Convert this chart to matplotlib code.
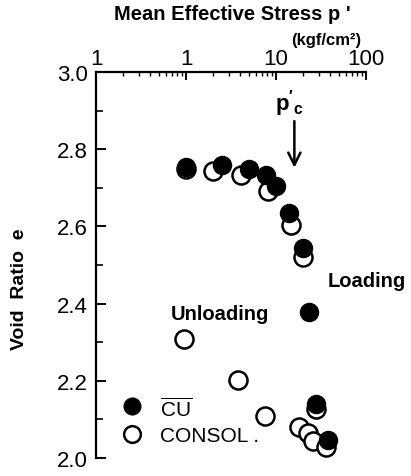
import numpy as np
import matplotlib
matplotlib.use("Agg")
import matplotlib.pyplot as plt
from matplotlib.ticker import FixedLocator, FixedFormatter, LogLocator, NullFormatter, MultipleLocator

plt.rcParams['font.family'] = ['Liberation Sans', 'DejaVu Sans']
plt.rcParams['mathtext.fontset'] = 'custom'
plt.rcParams['mathtext.rm'] = 'Liberation Sans'
plt.rcParams['mathtext.bf'] = 'Liberation Sans:bold'

# --- datos ---
# CU (circulos llenos)
cu_p = [1.0, 2.5, 5.0, 7.7, 10.0, 13.9, 19.8, 23.5, 27.8, 38.0]
cu_e = [2.753, 2.760, 2.749, 2.734, 2.705, 2.635, 2.543, 2.377, 2.140, 2.047]

# CONSOL (circulos vacios) - carga
cons_load_p = [1.0, 2.0, 4.1, 8.2, 14.6, 19.8]
cons_load_e = [2.748, 2.743, 2.734, 2.693, 2.604, 2.522]
# CONSOL - descarga / recarga
cons_unl_p = [0.95, 3.8, 7.55, 18.2, 22.9, 25.9, 27.8, 36.3]
cons_unl_e = [2.308, 2.202, 2.110, 2.080, 2.066, 2.045, 2.127, 2.028]

x_ticks = [0.1, 1, 10, 100]
x_labels = ['1', '1', '10', '100']
y_ticks = [2.0, 2.2, 2.4, 2.6, 2.8, 3.0]

fig = plt.figure(figsize=(4.11, 4.77), dpi=100)
ax = fig.add_axes([96/411, 1 - 459/477, 270/411, 386/477])

ms = 13
ax.plot(cons_load_p, cons_load_e, 'o', mfc='white', mec='black', mew=1.8, ms=ms, ls='none', zorder=2)
ax.plot(cons_unl_p, cons_unl_e, 'o', mfc='white', mec='black', mew=1.8, ms=ms, ls='none', zorder=2)
ax.plot(cu_p, cu_e, 'o', mfc='black', mec='black', ms=ms, ls='none', zorder=3)

ax.set_xscale('log')
ax.set_xlim(0.1, 100)
ax.set_ylim(2.0, 3.0)

ax.spines['right'].set_visible(False)
ax.spines['bottom'].set_visible(False)
ax.spines['left'].set_linewidth(1.6)
ax.spines['top'].set_linewidth(1.6)

ax.xaxis.tick_top()
ax.xaxis.set_major_locator(FixedLocator(x_ticks))
ax.xaxis.set_major_formatter(FixedFormatter(x_labels))
ax.xaxis.set_minor_locator(LogLocator(base=10, subs=np.arange(2, 10)))
ax.xaxis.set_minor_formatter(NullFormatter())
ax.tick_params(axis='x', which='major', direction='in', length=6, width=1.4, pad=2, labelsize=16)
ax.tick_params(axis='x', which='minor', direction='in', length=3, width=1.0)

ax.yaxis.set_major_locator(FixedLocator(y_ticks))
ax.yaxis.set_minor_locator(MultipleLocator(0.1))
ax.set_yticklabels(['%.1f' % v for v in y_ticks])
ax.tick_params(axis='y', which='major', direction='in', length=7, width=1.4, pad=6, labelsize=16)
ax.tick_params(axis='y', which='minor', direction='in', length=5, width=1.2)

ax.set_ylabel('Void  Ratio  e', fontsize=14, fontweight='bold')
ax.yaxis.set_label_coords(-0.25, 0.44)

# titulos
fig.text(232/411, 1 - 15/477, "Mean Effective Stress p '", ha='center', va='center',
         fontsize=14.5, fontweight='bold')
fig.text(326/411, 1 - 40/477, '(kgf/cm²)', ha='center', va='center',
         fontsize=12, fontweight='bold')

# p'c y flecha
fig.text(289/411, 1 - 104/477, r"$\mathbf{p'_c}$", ha='center', va='center', fontsize=16)
ax.annotate('', xy=(16.0, 2.745), xytext=(16.0, 2.88),
            arrowprops=dict(arrowstyle='->', lw=1.8, color='black', mutation_scale=22))

fig.text(220/411, 1 - 314/477, 'Unloading', ha='center', va='center', fontsize=14.5, fontweight='bold')
fig.text(328/411, 1 - 282/477, 'Loading', ha='left', va='center', fontsize=14.5, fontweight='bold')

# leyenda
fig.lines.append(plt.Line2D([132/411], [1 - 407/477], marker='o', mfc='black', mec='black',
                            ms=12, transform=fig.transFigure))
fig.lines.append(plt.Line2D([132/411], [1 - 435/477], marker='o', mfc='white', mec='black',
                            mew=1.8, ms=12, transform=fig.transFigure))
fig.text(160/411, 1 - 409/477, r'$\overline{\mathrm{CU}}$', ha='left', va='center', fontsize=15)
fig.text(160/411, 1 - 437/477, 'CONSOL .', ha='left', va='center', fontsize=15)

fig.savefig('out.png', dpi=100)
